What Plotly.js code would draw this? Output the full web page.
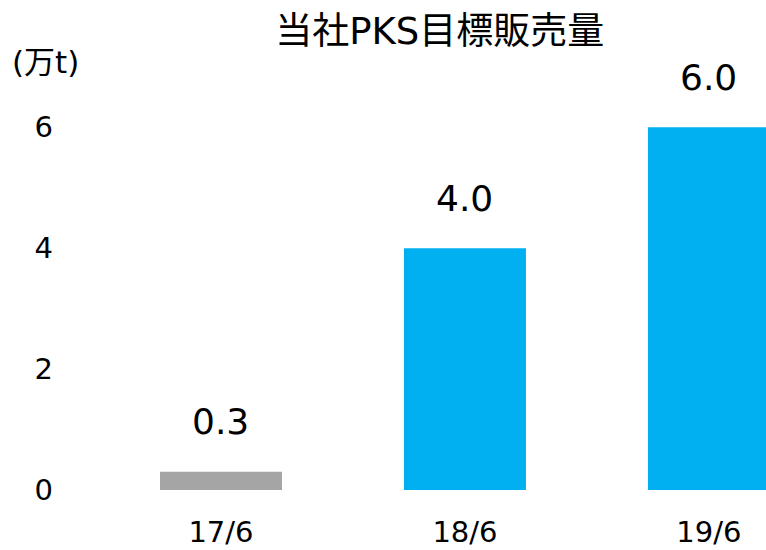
<!DOCTYPE html>
<html>
<head>
<meta charset="utf-8">
<script src="https://cdn.plot.ly/plotly-3.0.1.min.js"></script>
<style>
  html, body { margin: 0; padding: 0; background: #fff; }
  #myDiv { width: 766px; height: 550px; }
</style>
</head>
<body>
<div id="myDiv"></div>
<script>
var periods = ['17/6', '18/6', '19/6'];
var volumes = [0.3, 4.0, 6.0];
var valueLabels = ['0.3', '4.0', '6.0'];
var barColors = ['#A5A5A5', '#00B0F0', '#00B0F0'];
var yTicks = [0, 2, 4, 6];

var FONT = 'DejaVu Sans, Noto Sans CJK JP, sans-serif';

var trace1 = {
  x: periods,
  y: volumes,
  type: 'bar',
  width: 0.5,
  marker: {color: barColors},
  hoverinfo: 'skip'
};

// value labels sit well above the bar tops
var labels = periods.map(function (p, i) {
  return {
    x: p, y: volumes[i], xref: 'x', yref: 'y',
    text: valueLabels[i], showarrow: false,
    yanchor: 'middle', yshift: 50,
    font: {family: FONT, size: 36, color: '#000'}
  };
});

// unit label, top left of the figure
labels.push({
  x: -0.133, y: 1.097, xref: 'paper', yref: 'paper',
  xanchor: 'left', yanchor: 'middle',
  text: '(万t)', showarrow: false,
  font: {family: FONT, size: 31, color: '#000'}
});

var layout = {
  width: 766,
  height: 550,
  margin: {l: 99, r: 0, t: 100, b: 60},
  paper_bgcolor: '#fff',
  plot_bgcolor: '#fff',
  showlegend: false,
  title: {
    text: '当社PKS目標販売量',
    x: 0.574, xanchor: 'center', y: 0.944, yanchor: 'middle',
    font: {family: FONT, size: 37, color: '#000'}
  },
  xaxis: {
    type: 'category',
    range: [-0.5, 2.234],
    showline: false, showgrid: false, zeroline: false,
    ticks: '', ticklabelstandoff: 22,
    tickfont: {family: FONT, size: 29, color: '#000'},
    fixedrange: true
  },
  yaxis: {
    range: [0, 6.45],
    tickvals: yTicks,
    showline: false, showgrid: false, zeroline: false,
    ticks: '', ticklabelstandoff: 45,
    tickfont: {family: FONT, size: 29, color: '#000'},
    fixedrange: true
  },
  annotations: labels
};

Plotly.newPlot('myDiv', [trace1], layout, {displayModeBar: false, staticPlot: true});
</script>
</body>
</html>
